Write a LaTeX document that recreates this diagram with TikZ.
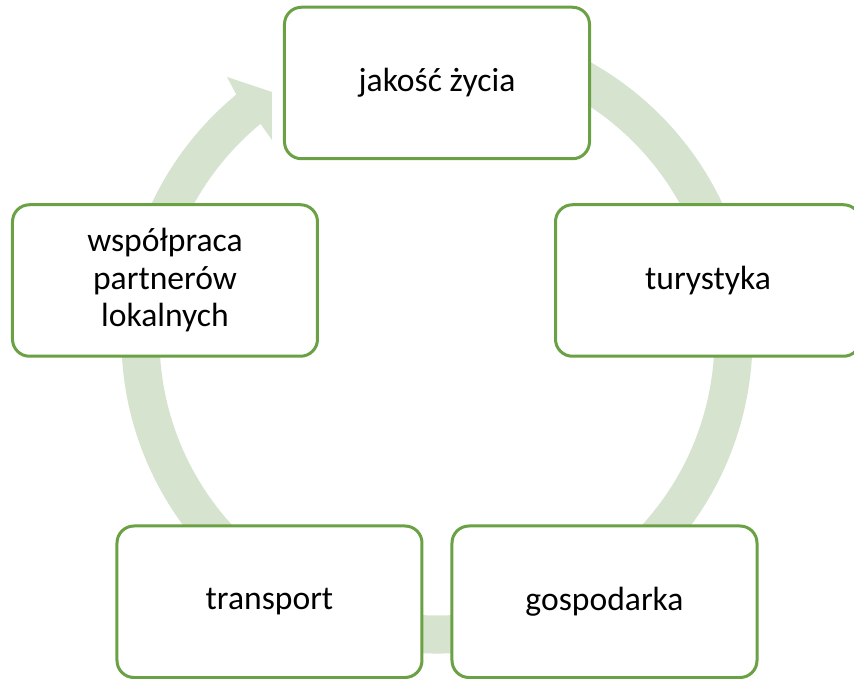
\documentclass[tikz,border=0pt]{standalone}
\usepackage{fontspec}
\setmainfont{Carlito}
\definecolor{ramka}{HTML}{6AA144}
\definecolor{pierscien}{HTML}{D5E3CF}
\tikzset{
  blok/.style={draw=ramka, line width=3pt, fill=white, rounded corners=17pt,
    minimum width=305pt, minimum height=151.5pt, inner sep=0pt, align=center,
    font=\fontsize{33.6}{37.5}\selectfont}
}

\begin{document}
\begin{tikzpicture}[x=1pt,y=1pt]
  \useasboundingbox (-437,-341) rectangle (417,338);

  % Pierscien ze strzalka
  \fill[pierscien] (80:315.5) arc[start angle=80, end angle=-230.5, radius=315.5]
    -- (-210,261) -- (-165,246) -- (-165,198)
    -- (-230.5:277.5) arc[start angle=-230.5, end angle=80, radius=277.5] -- cycle;

  % Bloki
  \node[blok] (jakosc) at (0,255) {jakość życia};
  \node[blok] (turystyka) at (271,57.5) {turystyka};
  \node[blok] (gospodarka) at (167.5,-263.75) {gospodarka};
  \node[blok] (transport) at (-167.5,-263.75) {transport};
  \node[blok] (wspolpraca) at (-272,57.5) {współpraca\\partnerów\\lokalnych};
\end{tikzpicture}
\end{document}
